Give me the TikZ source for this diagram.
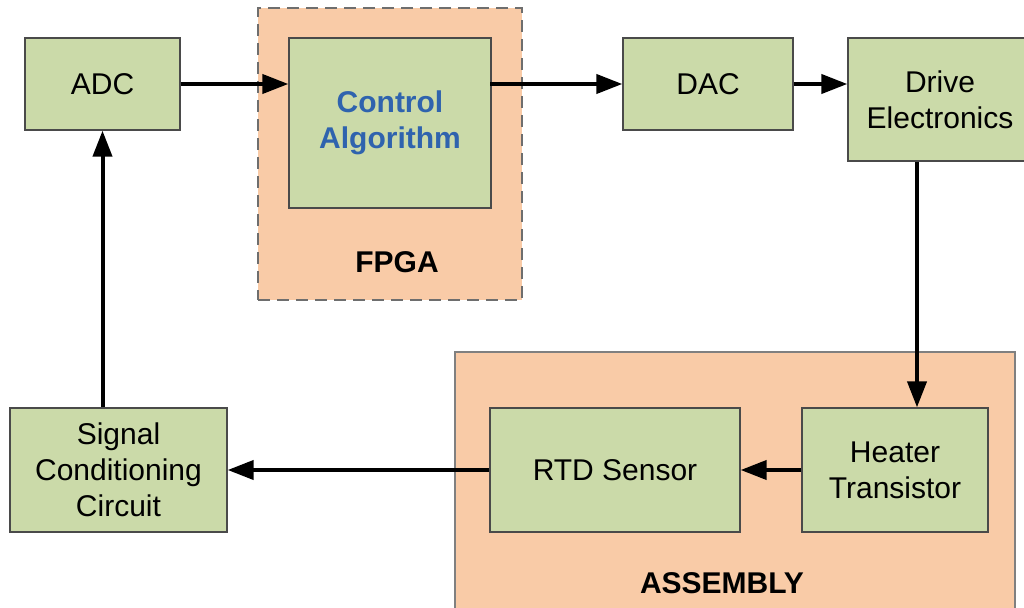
\documentclass[tikz,border=0pt]{standalone}
\usepackage{fontspec}
\setmainfont{Liberation Sans}
\usetikzlibrary{arrows.meta}
\definecolor{boxgreen}{HTML}{CBDAA9}
\definecolor{peach}{HTML}{F9CBA7}
\definecolor{edge}{HTML}{4A4A4A}
\definecolor{algblue}{HTML}{2F63AE}
\definecolor{dashgray}{HTML}{6E6E6E}
\tikzset{
  block/.style={draw=edge, line width=1.3pt, fill=boxgreen, inner sep=0pt,
    align=center, font=\fontsize{30}{36}\selectfont},
  flow/.style={line width=4pt, -{Triangle[length=26pt,width=19pt]}},
  group/.style={fill=peach, draw=gray, line width=1.5pt, inner sep=0pt},
  grouplabel/.style={font=\fontsize{30}{36}\selectfont\bfseries},
}
\begin{document}
\begin{tikzpicture}[x=1pt,y=-1pt]
\useasboundingbox (0,0) rectangle (1024,607);
\clip (0,0) rectangle (1024,607);

% enclosing groups
\node[group, draw=dashgray, line width=2pt, dash pattern=on 12pt off 7pt, minimum width=264pt, minimum height=292pt] (fpga) at (390,154) {};
\node[group, minimum width=560pt, minimum height=268pt] (assembly) at (735,486) {};
\node[grouplabel] (fpgalabel) at (397,262) {FPGA};
\node[grouplabel] (assemblylabel) at (722,583) {ASSEMBLY};

% blocks
\node[block, minimum width=155pt, minimum height=92pt] (adc) at (102.5,84) {ADC};
\node[block, minimum width=202pt, minimum height=170pt, text=algblue,
      font=\fontsize{30}{36}\selectfont\bfseries] (ctrl) at (390,123) {\raisebox{3pt}{\begin{tabular}{@{}c@{}}Control\\Algorithm\end{tabular}}};
\node[block, minimum width=170pt, minimum height=92pt] (dac) at (708,84) {DAC};
\node[block, minimum width=184pt, minimum height=123pt] (drive) at (940,99.5) {Drive\\Electronics};
\node[block, minimum width=186pt, minimum height=124pt] (heater) at (895,470) {Heater\\Transistor};
\node[block, minimum width=250pt, minimum height=124pt] (rtd) at (615,470) {RTD Sensor};
\node[block, minimum width=217pt, minimum height=124pt] (sig) at (118.5,470) {Signal\\Conditioning\\Circuit};

% signal flow
\draw[flow] (adc.east) -- (adc.east -| ctrl.west);
\draw[flow] (ctrl.west |- adc.east) ++(202pt,0) -- (dac.west);
\draw[flow] (dac.east) -- (dac.east -| drive.west);
\draw[flow] ([xshift=-23pt]drive.south) -- ([xshift=22pt]heater.north);
\draw[flow] (heater.west) -- (rtd.east);
\draw[flow] (rtd.west) -- (sig.east);
\draw[flow] (adc.south |- sig.north) -- (adc.south);
\end{tikzpicture}
\end{document}
